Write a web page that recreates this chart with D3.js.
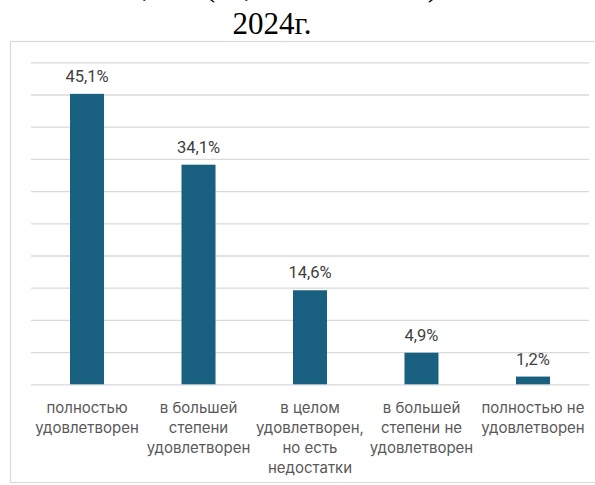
<!DOCTYPE html>
<html><head><meta charset="utf-8">
<script src="https://cdn.jsdelivr.net/npm/d3@7"></script>
<style>body{margin:0;background:#fff;}svg{display:block;}</style>
</head><body>
<script>
const categories = [
  ["полностью","удовлетворен"],
  ["в большей","степени","удовлетворен"],
  ["в целом","удовлетворен,","но есть","недостатки"],
  ["в большей","степени не","удовлетворен"],
  ["полностью не","удовлетворен"]
];
const values = [45.1, 34.1, 14.6, 4.9, 1.2];
const valueLabels = ["45,1%","34,1%","14,6%","4,9%","1,2%"];
const yTicks = [0,5,10,15,20,25,30,35,40,45,50];
const titleText = "2024г.";

const W = 595, H = 485;
const svg = d3.select("body").append("svg").attr("width", W).attr("height", H);

// previous title line, clipped by the top edge as in the reference
const frag = [[146, ","], [210, "("], [248, ","], [433, ")"]];
svg.selectAll("text.frag").data(frag).enter().append("text")
  .attr("x", d => d[0]).attr("y", -4)
  .attr("font-family", "Liberation Serif, Times New Roman, serif")
  .attr("font-size", 31).attr("fill", "#000").attr("text-anchor", "middle")
  .text(d => d[1]);

svg.append("text").attr("x", 272).attr("y", 34)
  .attr("text-anchor", "middle")
  .attr("font-family", "Liberation Serif, Times New Roman, serif")
  .attr("font-size", 31).attr("fill", "#000").text(titleText);

// chart border
svg.append("rect").attr("x", 10.5).attr("y", 41.5).attr("width", 600).attr("height", 441)
  .attr("fill", "none").attr("stroke", "#d9d9d9").attr("stroke-width", 1.2);

const x = d3.scaleBand().domain(d3.range(values.length)).range([31, 589]).paddingInner(0.695).paddingOuter(0.35);
const y = d3.scaleLinear().domain([0, 50]).range([384.3, 62.3]);

const grid = svg.append("g")
  .attr("transform", "translate(31,0)")
  .call(d3.axisLeft(y).tickValues(yTicks).tickSize(-(589 - 31)).tickFormat(""));
grid.select(".domain").remove();
grid.selectAll("line").attr("stroke", "#d9d9d9").attr("stroke-width", 1.3);

svg.selectAll("rect.bar").data(values).enter().append("rect")
  .attr("x", (d, i) => x(i)).attr("width", x.bandwidth())
  .attr("y", d => y(d)).attr("height", d => y(0) - y(d))
  .attr("fill", "#185f80");

svg.selectAll("text.val").data(values).enter().append("text")
  .attr("x", (d, i) => x(i) + x.bandwidth() / 2)
  .attr("y", d => y(d) - 12)
  .attr("text-anchor", "middle")
  .attr("font-family", "Roboto, Arial, sans-serif")
  .attr("font-size", 16.5).attr("fill", "#404040")
  .text((d, i) => valueLabels[i]);

const cat = svg.selectAll("text.cat").data(categories).enter().append("text")
  .attr("text-anchor", "middle")
  .attr("font-family", "Inter, Roboto, sans-serif")
  .attr("font-size", 15).attr("fill", "#595959");
cat.each(function(lines, i) {
  d3.select(this).selectAll("tspan").data(lines).enter().append("tspan")
    .attr("x", x(i) + x.bandwidth() / 2)
    .attr("y", (d, j) => 413 + j * 20)
    .text(d => d);
});
</script>
</body></html>
